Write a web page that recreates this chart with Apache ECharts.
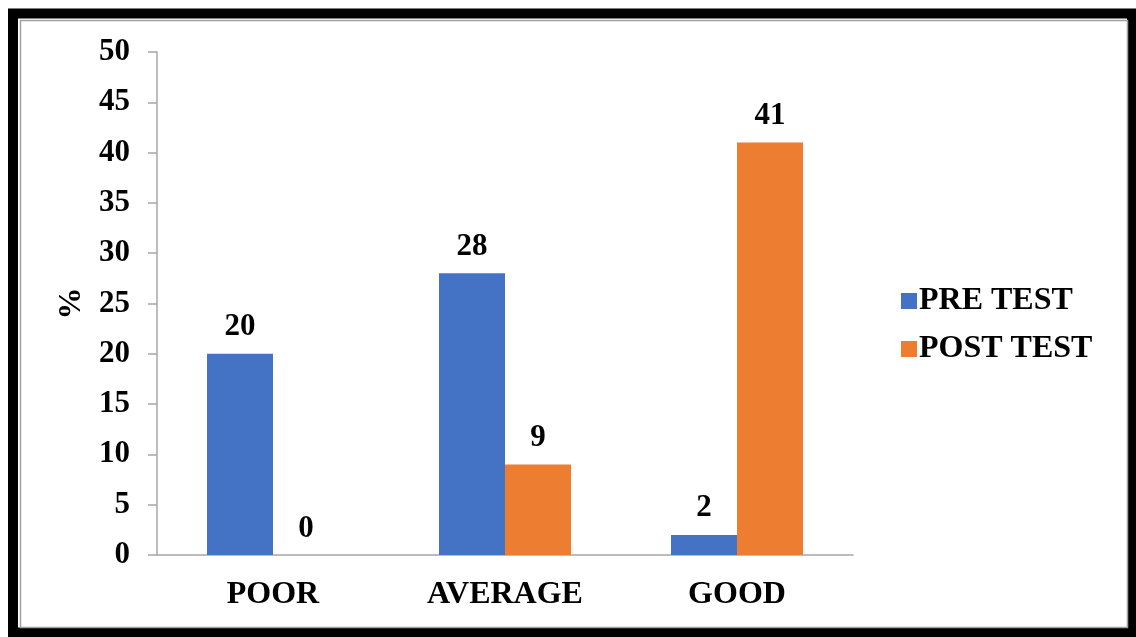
<!DOCTYPE html>
<html>
<head>
<meta charset="utf-8">
<script src="https://cdn.jsdelivr.net/npm/echarts@6/dist/echarts.min.js"></script>
<style>
html, body { margin: 0; padding: 0; background: #fff; }
#container { width: 1136px; height: 637px; }
</style>
</head>
<body>
<div id="container"></div>
<script>
// 数据
var categories = ['POOR', 'AVERAGE', 'GOOD'];
var preTest = [20, 28, 2];
var postTest = [0, 9, 41];
var seriesNames = ['PRE TEST', 'POST TEST'];

var font = '"Liberation Serif", "Times New Roman", serif';

function getOption() {
    var labelStyle = {
        show: true,
        position: 'top',
        distance: 11,
        color: '#000',
        fontFamily: font,
        fontWeight: 'bold',
        fontSize: 31
    };
    return {
        animation: false,
        backgroundColor: '#fff',
        graphic: [
            // 外框（黑）
            { type: 'rect', shape: { x: 13, y: 13.5, width: 1119, height: 619 },
              style: { fill: 'none', stroke: '#000', lineWidth: 10 }, silent: true },
            // 内框（灰）
            { type: 'rect', shape: { x: 20.5, y: 20.5, width: 1107, height: 607 },
              style: { fill: 'none', stroke: '#a0a0a0', lineWidth: 1.5 }, silent: true }
        ],
        legend: {
            orient: 'vertical',
            left: 896,
            top: 280,
            itemWidth: 16,
            itemHeight: 16,
            itemGap: 16,
            icon: 'rect',
            textStyle: {
                color: '#000',
                fontFamily: font,
                fontWeight: 'bold',
                fontSize: 32,
                padding: [0, 0, 0, -3]
            },
            data: seriesNames
        },
        grid: {
            left: 157,
            top: 52,
            width: 696,
            height: 503,
            containLabel: false
        },
        xAxis: {
            type: 'category',
            data: categories,
            axisLine: { lineStyle: { color: '#a6a6a6', width: 1.5 } },
            axisTick: { show: false },
            axisLabel: {
                margin: 24,
                color: '#000',
                fontFamily: font,
                fontWeight: 'bold',
                fontSize: 32
            }
        },
        yAxis: {
            type: 'value',
            min: 0,
            max: 50,
            interval: 5,
            name: '%',
            nameLocation: 'middle',
            nameGap: 69,
            nameRotate: 90,
            nameTextStyle: {
                color: '#000',
                fontFamily: font,
                fontWeight: 'bold',
                fontSize: 32
            },
            axisLine: { show: true, lineStyle: { color: '#a6a6a6', width: 1.5 } },
            axisTick: { show: true, length: 9, lineStyle: { color: '#a6a6a6', width: 1.5 } },
            splitLine: { show: false },
            axisLabel: {
                margin: 27,
                color: '#000',
                fontFamily: font,
                fontWeight: 'bold',
                fontSize: 31
            }
        },
        series: [
            {
                name: seriesNames[0],
                type: 'bar',
                data: preTest,
                barWidth: 66,
                barGap: '0%',
                itemStyle: { color: '#4472c4' },
                label: labelStyle
            },
            {
                name: seriesNames[1],
                type: 'bar',
                data: postTest,
                barWidth: 66,
                barGap: '0%',
                itemStyle: { color: '#ed7d31' },
                label: labelStyle
            }
        ]
    };
}

var container = echarts.init(document.getElementById('container'));
container.setOption(getOption());
</script>
</body>
</html>
